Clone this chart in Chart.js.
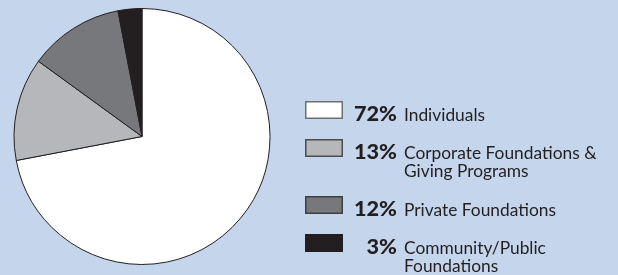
<!DOCTYPE html>
<html>
<head>
<meta charset="utf-8">
<script src="https://cdn.jsdelivr.net/npm/chart.js@4/dist/chart.umd.min.js"></script>
<style>
  html, body { margin: 0; padding: 0; background: #c4d5ec; }
  #wrap { width: 618px; height: 275px; }
</style>
</head>
<body>
<div id="wrap"><canvas id="c" width="618" height="275"></canvas></div>
<script>
const categories = [
  ["Individuals"],
  ["Corporate Foundations &", "Giving Programs"],
  ["Private Foundations"],
  ["Community/Public", "Foundations"]
];
const shares = [72, 13, 12, 3];
const sliceColors = ["#ffffff", "#b6b7ba", "#77787c", "#231f20"];
const boxBorders = ["#6d6e71", "#4d4d4f", "#3f3f41", "#231f20"];

const INK = "#231f20";
const FONT = "Lato, 'Open Sans', sans-serif";

function fitSize(ctx, text, weight, target) {
  ctx.font = weight + " 100px " + FONT;
  const w = ctx.measureText(text).width;
  return 100 * target / w;
}

const legendPlugin = {
  id: "sideLegend",
  afterDraw(chart) {
    const ctx = chart.ctx;
    const ds = chart.data.datasets[0];
    const labSize = fitSize(ctx, "Private Foundations", "400", 152);
    const pctSize = fitSize(ctx, "72%", "900", 43);
    const boxX = 305, boxW = 38, boxH = 18;
    const pctRight = 397, labX = 404;
    const lineH = 18;
    let baseline = 121;
    ctx.save();
    ds.data.forEach((v, i) => {
      // box
      ctx.fillStyle = ds.backgroundColor[i];
      ctx.strokeStyle = boxBorders[i];
      ctx.lineWidth = 1.5;
      const top = baseline - 20;
      ctx.fillRect(boxX, top, boxW, boxH);
      ctx.strokeRect(boxX + 0.75, top + 0.75, boxW - 1.5, boxH - 1.5);
      // percent
      ctx.fillStyle = INK;
      ctx.textBaseline = "alphabetic";
      ctx.textAlign = "right";
      ctx.font = "900 " + pctSize + "px " + FONT;
      ctx.fillText(v + "%", pctRight, baseline);
      // label lines
      ctx.textAlign = "left";
      ctx.font = "400 " + labSize + "px " + FONT;
      const lines = chart.data.labels[i];
      lines.forEach((ln, k) => ctx.fillText(ln, labX, baseline + k * lineH));
      baseline += 38 + (lines.length - 1) * 19;
    });
    ctx.restore();
  }
};

new Chart(document.getElementById("c"), {
  type: "pie",
  data: {
    labels: categories,
    datasets: [{
      data: shares,
      backgroundColor: sliceColors,
      borderColor: INK,
      borderWidth: 1
    }]
  },
  options: {
    responsive: false,
    animation: false,
    layout: { padding: { left: 13, top: 8, right: 347, bottom: 10 } },
    plugins: { legend: { display: false }, tooltip: { enabled: false } }
  },
  plugins: [legendPlugin]
});
</script>
</body>
</html>
